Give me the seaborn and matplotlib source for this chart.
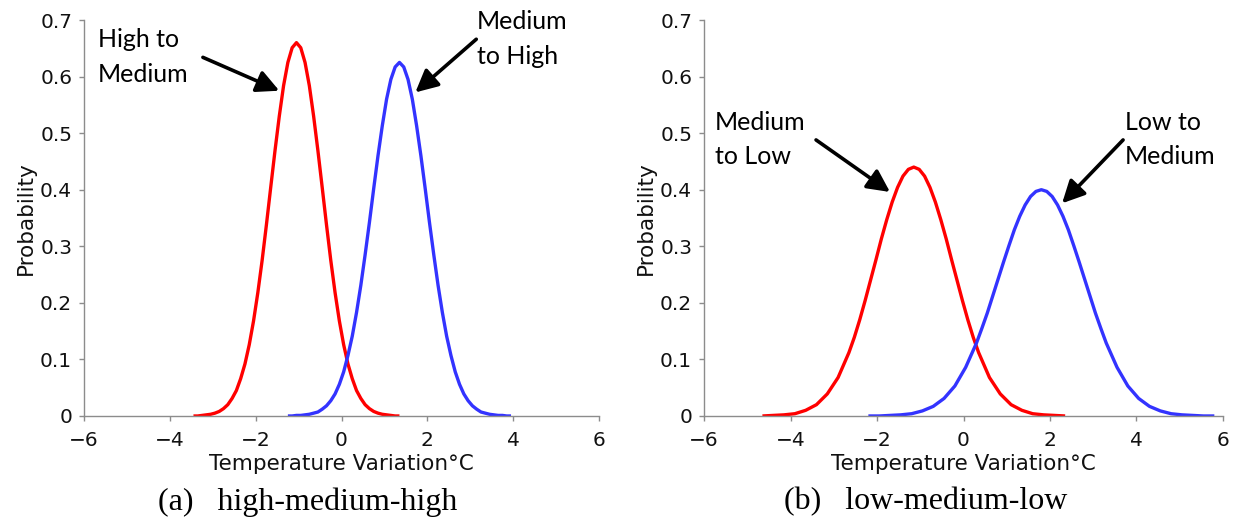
import matplotlib
matplotlib.use('Agg')
import matplotlib.pyplot as plt
import seaborn as sns
import numpy as np

# values
red_a_x = [-3.45, -3.35, -3.25, -3.15, -3.05, -2.95, -2.85, -2.75, -2.65, -2.55, -2.45, -2.35,
           -2.25, -2.15, -2.05, -1.95, -1.85, -1.75, -1.65, -1.55, -1.45, -1.35, -1.25, -1.15,
           -1.05, -0.95, -0.85, -0.75, -0.65, -0.55, -0.45, -0.35, -0.25, -0.15, -0.05, 0.05,
           0.15, 0.25, 0.35, 0.45, 0.55, 0.65, 0.75, 0.85, 0.95, 1.05, 1.15, 1.25, 1.35]
red_a_y = [0.000, 0.000, 0.001, 0.002, 0.003, 0.005, 0.008, 0.013, 0.020, 0.031, 0.045, 0.066,
           0.092, 0.126, 0.168, 0.218, 0.275, 0.338, 0.404, 0.469, 0.530, 0.584, 0.625, 0.651,
           0.660, 0.651, 0.625, 0.584, 0.530, 0.469, 0.404, 0.338, 0.275, 0.218, 0.168, 0.126,
           0.092, 0.066, 0.045, 0.031, 0.020, 0.013, 0.008, 0.005, 0.003, 0.002, 0.001, 0.000, 0.000]

blue_a_x = [-1.25, -1.15, -1.05, -0.95, -0.85, -0.75, -0.65, -0.55, -0.45, -0.35, -0.25, -0.15,
            -0.05, 0.05, 0.15, 0.25, 0.35, 0.45, 0.55, 0.65, 0.75, 0.85, 0.95, 1.05, 1.15, 1.25,
            1.35, 1.45, 1.55, 1.65, 1.75, 1.85, 1.95, 2.05, 2.15, 2.25, 2.35, 2.45, 2.55, 2.65,
            2.75, 2.85, 2.95, 3.05, 3.15, 3.25, 3.35, 3.45, 3.55, 3.65, 3.75, 3.85, 3.95]
blue_a_y = [0.000, 0.000, 0.001, 0.001, 0.002, 0.003, 0.005, 0.007, 0.012, 0.018, 0.027, 0.039,
            0.056, 0.078, 0.107, 0.141, 0.183, 0.231, 0.285, 0.342, 0.402, 0.460, 0.513, 0.560,
            0.595, 0.617, 0.625, 0.617, 0.595, 0.560, 0.513, 0.460, 0.402, 0.342, 0.285, 0.231,
            0.183, 0.141, 0.107, 0.078, 0.056, 0.039, 0.027, 0.018, 0.012, 0.007, 0.005, 0.003,
            0.002, 0.001, 0.001, 0.000, 0.000]

red_b_x = [-4.65, -4.40, -4.15, -3.90, -3.65, -3.40, -3.15, -2.90, -2.65, -2.525, -2.40, -2.275,
           -2.15, -2.025, -1.90, -1.775, -1.65, -1.525, -1.40, -1.275, -1.15, -1.025, -0.90,
           -0.775, -0.65, -0.525, -0.40, -0.275, -0.15, -0.025, 0.10, 0.225, 0.35, 0.60, 0.85,
           1.10, 1.35, 1.60, 1.85, 2.10, 2.35]
red_b_y = [0.000, 0.001, 0.002, 0.004, 0.010, 0.020, 0.039, 0.068, 0.112, 0.139, 0.170, 0.204,
           0.240, 0.276, 0.313, 0.347, 0.378, 0.404, 0.424, 0.436, 0.440, 0.436, 0.424, 0.404,
           0.378, 0.347, 0.313, 0.276, 0.240, 0.204, 0.170, 0.139, 0.112, 0.068, 0.039, 0.020,
           0.010, 0.004, 0.002, 0.001, 0.000]

blue_b_x = [-2.20, -1.95, -1.70, -1.45, -1.20, -0.95, -0.70, -0.45, -0.20, 0.05, 0.30, 0.425,
            0.55, 0.675, 0.80, 0.925, 1.05, 1.175, 1.30, 1.425, 1.55, 1.675, 1.80, 1.925, 2.05,
            2.175, 2.30, 2.425, 2.55, 2.675, 2.80, 2.925, 3.05, 3.175, 3.30, 3.55, 3.80, 4.05,
            4.30, 4.55, 4.80, 5.05, 5.30, 5.55, 5.80]
blue_b_y = [0.000, 0.000, 0.001, 0.002, 0.004, 0.009, 0.017, 0.031, 0.053, 0.086, 0.129, 0.155,
            0.182, 0.212, 0.242, 0.272, 0.301, 0.329, 0.353, 0.373, 0.388, 0.397, 0.400, 0.397,
            0.388, 0.373, 0.353, 0.329, 0.301, 0.272, 0.242, 0.212, 0.182, 0.155, 0.129, 0.086,
            0.053, 0.031, 0.017, 0.009, 0.004, 0.002, 0.001, 0.000, 0.000]

x_ticks = [-6, -4, -2, 0, 2, 4, 6]
y_ticks = [0, 0.1, 0.2, 0.3, 0.4, 0.5, 0.6, 0.7]
y_tick_labels = ['0', '0.1', '0.2', '0.3', '0.4', '0.5', '0.6', '0.7']

captions = ['(a)   high-medium-high', '(b)   low-medium-low']

RED = '#ff0000'
BLUE = '#3333ff'
INK = '#111111'

sns.set_style('ticks')
plt.rcParams['font.family'] = ['DejaVu Sans']

fig = plt.figure(figsize=(12.43, 5.17), dpi=100)
ax_a = fig.add_axes([0.0676, 0.1954, 0.4143, 0.7659])
ax_b = fig.add_axes([0.5664, 0.1954, 0.4175, 0.7659])


def style_axes(ax):
    ax.set_xlim(-6, 6)
    ax.set_ylim(0, 0.7)
    ax.set_xticks(x_ticks)
    ax.set_yticks(y_ticks)
    ax.set_yticklabels(y_tick_labels)
    for side in ['top', 'right']:
        ax.spines[side].set_visible(False)
    for side in ['left', 'bottom']:
        ax.spines[side].set_color('#8c8c8c')
        ax.spines[side].set_linewidth(1.0)
    ax.tick_params(direction='out', length=3.5, width=1.0, color='#8c8c8c',
                   labelcolor=INK, labelsize=14.5)
    ax.tick_params(axis='x', pad=7)
    ax.tick_params(axis='y', pad=5)
    ax.set_xlabel('Temperature Variation°C', fontsize=15.5, color=INK, labelpad=3)
    ax.set_ylabel('Probability', fontsize=15.5, color=INK, labelpad=3)


def note(ax, label, text_xy, tail, head):
    ax.text(text_xy[0], text_xy[1], label, fontsize=18, family='Lato',
            ha='left', va='top', linespacing=1.6, color='black')
    ax.annotate('', xy=head, xytext=tail,
                arrowprops=dict(arrowstyle='-|>,head_length=0.9,head_width=0.45',
                                lw=2.6, color='black', mutation_scale=15,
                                shrinkA=0, shrinkB=0))


for ax, xs, ys, col in [(ax_a, red_a_x, red_a_y, RED), (ax_a, blue_a_x, blue_a_y, BLUE),
                        (ax_b, red_b_x, red_b_y, RED), (ax_b, blue_b_x, blue_b_y, BLUE)]:
    sns.lineplot(x=xs, y=ys, ax=ax, color=col, lw=2.4, sort=False,
                 solid_joinstyle='round', solid_capstyle='butt')

for ax in [ax_a, ax_b]:
    style_axes(ax)

note(ax_a, 'High to\nMedium', (-5.67, 0.685), (-3.23, 0.634), (-1.45, 0.575))
note(ax_a, 'Medium\nto High', (3.16, 0.717), (3.14, 0.666), (1.72, 0.572))
note(ax_b, 'Medium\nto Low', (-5.75, 0.540), (-3.41, 0.488), (-1.70, 0.396))
note(ax_b, 'Low to\nMedium', (3.73, 0.540), (3.69, 0.488), (2.28, 0.376))

fig.text(308 / 1243, 1 - 502 / 517, captions[0], ha='center', va='center',
         fontsize=23, family='Liberation Serif', color='black')
fig.text(926 / 1243, 1 - 502 / 517, captions[1], ha='center', va='center',
         fontsize=23, family='Liberation Serif', color='black')

fig.savefig('out.png', dpi=100)
